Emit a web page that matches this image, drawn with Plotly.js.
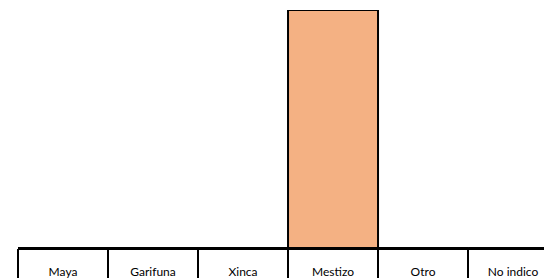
<!DOCTYPE html>
<html>
<head>
<meta charset="utf-8">
<script src="https://cdn.plot.ly/plotly-3.0.1.min.js"></script>
<style>html,body{margin:0;padding:0;background:#fff;}#chart{width:544px;height:278px;}</style>
</head>
<body>
<div id="chart"></div>
<script>
var categories = ["Maya", "Garifuna", "Xinca", "Mestizo", "Otro", "No indico"];
var values = [0, 0, 0, 100, 0, 0];
var boundaries = [-0.5, 0.5, 1.5, 2.5, 3.5, 4.5, 5.5];

var idx = categories.map(function (c, i) { return i; });
var xr = [-0.5, 5.344];

var data = [{
  type: 'bar',
  x: idx,
  y: values,
  width: 1,
  marker: { color: '#F4B183', line: { color: '#000000', width: 2 } },
  hoverinfo: 'none'
}];

var layout = {
  width: 544, height: 278,
  margin: { l: 18, r: 0, t: 10, b: 30 },
  paper_bgcolor: '#ffffff', plot_bgcolor: '#ffffff',
  showlegend: false,
  font: { family: 'Lato, sans-serif', size: 12, color: '#000000' },
  bargap: 0,
  xaxis: {
    range: xr, tickmode: 'array', tickvals: idx, ticktext: categories,
    ticks: '', showgrid: false, zeroline: false,
    showline: true, linecolor: '#000000', linewidth: 2,
    ticklabelstandoff: 12, tickfont: { size: 12 }, fixedrange: true
  },
  xaxis2: {
    overlaying: 'x', matches: 'x', range: xr, tickmode: 'array', tickvals: boundaries,
    showticklabels: false, ticks: 'outside', ticklen: 30, tickwidth: 2, tickcolor: '#000000',
    showgrid: false, zeroline: false, showline: false, side: 'bottom', anchor: 'y'
  },
  yaxis: { range: [0, 100], visible: false, fixedrange: true }
};

data.push({ type: 'scatter', x: [], y: [], xaxis: 'x2', yaxis: 'y', hoverinfo: 'none' });

Plotly.newPlot('chart', data, layout, { staticPlot: true, displayModeBar: false });
</script>
</body>
</html>
